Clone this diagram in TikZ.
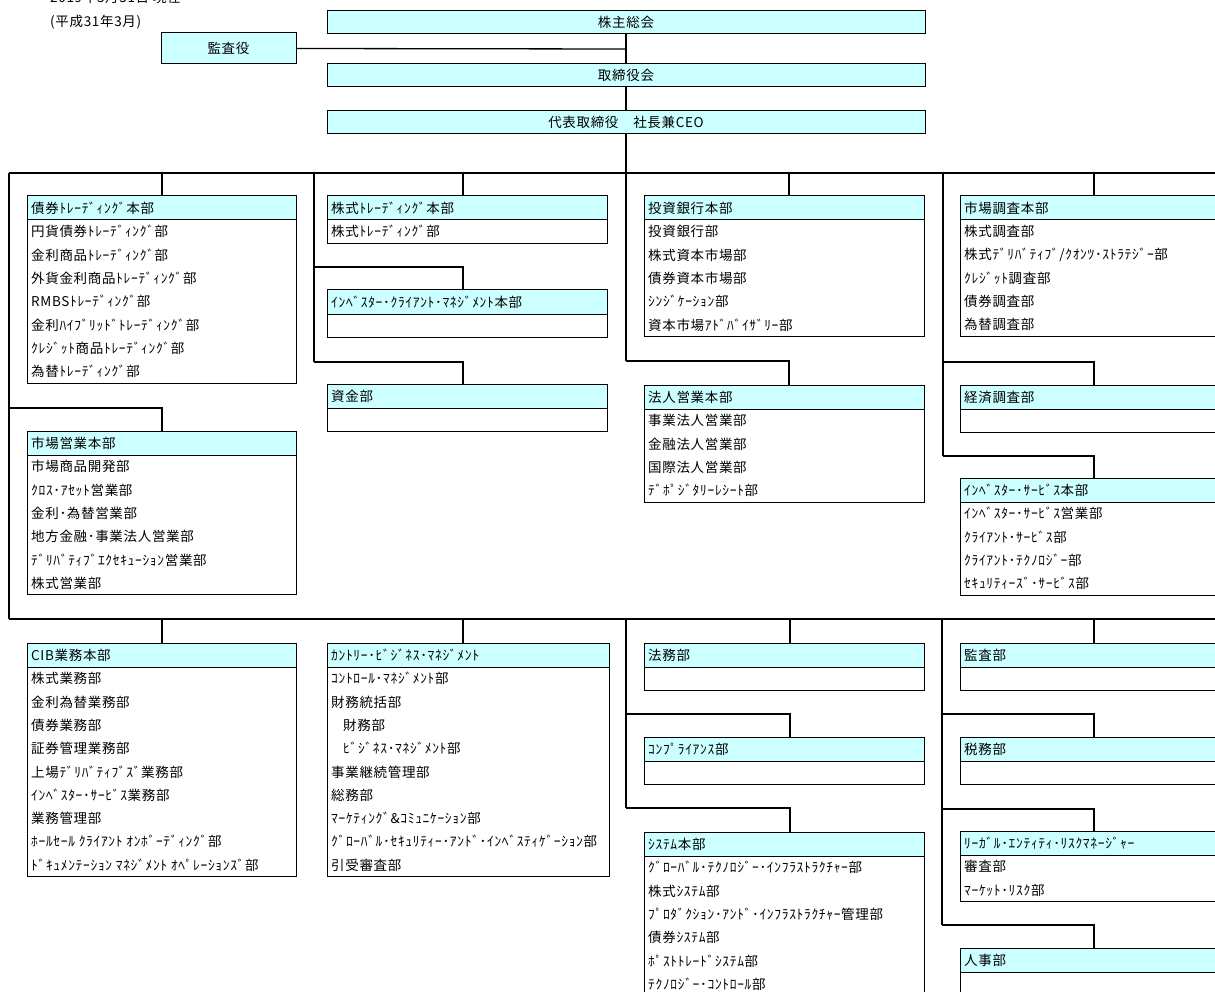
\documentclass[tikz,border=0pt]{standalone}
\usepackage{fontspec}
\setmainfont{Noto Sans CJK JP}[LetterSpace=5]
\usetikzlibrary{calc}
\definecolor{hdrcol}{HTML}{CCFFFF}
\tikzset{
  hdr/.style={draw=black, line width=1pt, fill=hdrcol, anchor=north west, minimum height=24, inner sep=0pt, outer sep=0pt},
  hdrtxt/.style={anchor=west, inner sep=0pt, font=\fontsize{13.5}{16}\selectfont},
  bodybox/.style={draw=black, line width=1pt, fill=white, anchor=north west, inner sep=0pt, outer sep=0pt},
  rowtxt/.style={anchor=west, inner sep=0pt, font=\fontsize{13.5}{16}\selectfont},
  topbox/.style={draw=black, line width=1pt, fill=hdrcol, inner sep=0pt, outer sep=0pt, font=\fontsize{13.5}{16}\selectfont},
  link/.style={line width=1.3pt, draw=black},
  note/.style={anchor=base west, inner sep=0pt, font=\fontsize{13.5}{16}\selectfont}
}
\newcommand\orgunit[7]{%
  \node[hdr, minimum width=#4] (#1) at (#2,#3) {};
  \node[hdrtxt] (#1t) at ($(#1.west)+(4,0)$) {#5};
  \pgfmathsetmacro\myBH{#6*23.3}
  \node[bodybox, minimum width=#4, minimum height=\myBH] (#1b) at (#1.south west) {};
  \foreach \t [count=\i from 0] in {#7} {
    \node[rowtxt] (#1r\i) at ($(#1b.north west)+(4,{11.65+\i*23.3})$) {\t};
  }%
}
\begin{document}
\begin{tikzpicture}[x=1pt,y=-1pt]
\useasboundingbox (0,0) rectangle (1215,992);
\clip (0,0) rectangle (1215,992);

% notes
\node[note] (date) at (50,3) {2019年3月31日 現在};
\node[note] (era) at (50,27) {(平成31年3月)};

% junction coordinates
\coordinate (j0) at (626,49);
\coordinate (b1L) at (9,173);
\coordinate (b1R) at (1225,173);
\coordinate (b2L) at (9,619);
\coordinate (b2R) at (1225,619);
\coordinate (t1) at (162,173);
\coordinate (t2) at (463,173);
\coordinate (t3) at (789,173);
\coordinate (t4) at (1094,173);
\coordinate (j1a) at (9,408);
\coordinate (v2top) at (314,173);
\coordinate (j2a) at (314,267);
\coordinate (j2b) at (314,362);
\coordinate (j3a) at (626,361);
\coordinate (v4top) at (943,173);
\coordinate (j4a) at (943,362);
\coordinate (j4b) at (943,456);
\coordinate (u1) at (162,619);
\coordinate (u2) at (463,619);
\coordinate (u3) at (790,619);
\coordinate (u4) at (1094,619);
\coordinate (v5top) at (626,619);
\coordinate (j5a) at (626,714);
\coordinate (j5b) at (626,808);
\coordinate (v6top) at (942,619);
\coordinate (j6a) at (942,714);
\coordinate (j6b) at (942,809);
\coordinate (j6c) at (942,925);

% top boxes
\node[topbox, minimum width=598, minimum height=23] (sh) at (626,22) {株主総会};
\node[topbox, minimum width=135, minimum height=31] (kansa) at (228.5,48.5) {監査役};
\node[topbox, minimum width=598, minimum height=23] (tori) at (626,75.5) {取締役会};
\node[topbox, minimum width=598, minimum height=23] (ceo) at (626,122.5) {代表取締役　社長兼CEO};

% connectors
\draw[link] (sh.south) -- (tori.north);
\draw[link] (kansa.east) -- (j0);
\draw[link] (tori.south) -- (ceo.north);
\draw[link] (ceo.south) -- (j3a);
\draw[link] (b1L) -- (b1R);
\draw[link] (b1L) -- (b2L);
\draw[link] (b2L) -- (b2R);
\draw[link] (v2top) -- (j2b);
\draw[link] (v4top) -- (j4b);
\draw[link] (v5top) -- (j5b);
\draw[link] (v6top) -- (j6c);

% column 1
\orgunit{bond}{27}{196}{269}{債券ﾄﾚｰﾃﾞｨﾝｸﾞ本部}{7}{円貨債券ﾄﾚｰﾃﾞｨﾝｸﾞ部,金利商品ﾄﾚｰﾃﾞｨﾝｸﾞ部,外貨金利商品ﾄﾚｰﾃﾞｨﾝｸﾞ部,RMBSﾄﾚｰﾃﾞｨﾝｸﾞ部,金利ﾊｲﾌﾞﾘｯﾄﾞﾄﾚｰﾃﾞｨﾝｸﾞ部,ｸﾚｼﾞｯﾄ商品ﾄﾚｰﾃﾞｨﾝｸﾞ部,為替ﾄﾚｰﾃﾞｨﾝｸﾞ部}
\orgunit{mkt}{27}{431}{269}{市場営業本部}{6}{市場商品開発部,ｸﾛｽ･ｱｾｯﾄ営業部,金利･為替営業部,地方金融･事業法人営業部,ﾃﾞﾘﾊﾞﾃｨﾌﾞｴｸｾｷｭｰｼｮﾝ営業部,株式営業部}
\draw[link] (t1) -- (bond.north -| t1);
\draw[link] (j1a) -| (mkt.north -| t1);

% column 2
\orgunit{eqt}{327}{196}{280}{株式ﾄﾚｰﾃﾞｨﾝｸﾞ本部}{1}{株式ﾄﾚｰﾃﾞｨﾝｸﾞ部}
\orgunit{icm}{327}{290}{280}{ｲﾝﾍﾞｽﾀｰ･ｸﾗｲｱﾝﾄ･ﾏﾈｼﾞﾒﾝﾄ本部}{1}{}
\orgunit{fund}{327}{384}{280}{資金部}{1}{}
\draw[link] (t2) -- (eqt.north -| t2);
\draw[link] (j2a) -| (icm.north -| t2);
\draw[link] (j2b) -| (fund.north -| t2);

% column 3
\orgunit{ib}{644}{196}{280}{投資銀行本部}{5}{投資銀行部,株式資本市場部,債券資本市場部,ｼﾝｼﾞｹｰｼｮﾝ部,資本市場ｱﾄﾞﾊﾞｲｻﾞﾘｰ部}
\orgunit{corp}{644}{385}{280}{法人営業本部}{4}{事業法人営業部,金融法人営業部,国際法人営業部,ﾃﾞﾎﾟｼﾞﾀﾘｰﾚｼｰﾄ部}
\draw[link] (t3) -- (ib.north -| t3);
\draw[link] (j3a) -| (corp.north -| t3);

% column 4
\orgunit{res}{960}{196}{268}{市場調査本部}{5}{株式調査部,{株式ﾃﾞﾘﾊﾞﾃｨﾌﾞ/ｸｵﾝﾂ･ｽﾄﾗﾃｼﾞｰ部},ｸﾚｼﾞｯﾄ調査部,債券調査部,為替調査部}
\orgunit{econ}{960}{385}{268}{経済調査部}{1}{}
\orgunit{inv}{960}{478}{268}{ｲﾝﾍﾞｽﾀｰ･ｻｰﾋﾞｽ本部}{4}{ｲﾝﾍﾞｽﾀｰ･ｻｰﾋﾞｽ営業部,ｸﾗｲｱﾝﾄ･ｻｰﾋﾞｽ部,ｸﾗｲｱﾝﾄ･ﾃｸﾉﾛｼﾞｰ部,ｾｷｭﾘﾃｨｰｽﾞ･ｻｰﾋﾞｽ部}
\draw[link] (t4) -- (res.north -| t4);
\draw[link] (j4a) -| (econ.north -| t4);
\draw[link] (j4b) -| (inv.north -| t4);

% bottom row
\orgunit{cib}{27}{643}{269}{CIB業務本部}{9}{株式業務部,金利為替業務部,債券業務部,証券管理業務部,上場ﾃﾞﾘﾊﾞﾃｨﾌﾞｽﾞ業務部,ｲﾝﾍﾞｽﾀｰ･ｻｰﾋﾞｽ業務部,業務管理部,ﾎｰﾙｾｰﾙ ｸﾗｲｱﾝﾄ ｵﾝﾎﾞｰﾃﾞｨﾝｸﾞ部,ﾄﾞｷｭﾒﾝﾃｰｼｮﾝ ﾏﾈｼﾞﾒﾝﾄ ｵﾍﾟﾚｰｼｮﾝｽﾞ部}
\orgunit{cbm}{327}{643}{282}{ｶﾝﾄﾘｰ･ﾋﾞｼﾞﾈｽ･ﾏﾈｼﾞﾒﾝﾄ}{9}{ｺﾝﾄﾛｰﾙ･ﾏﾈｼﾞﾒﾝﾄ部,財務統括部,\hspace*{12pt}財務部,\hspace*{12pt}ﾋﾞｼﾞﾈｽ･ﾏﾈｼﾞﾒﾝﾄ部,事業継続管理部,総務部,ﾏｰｹﾃｨﾝｸﾞ\&ｺﾐｭﾆｹｰｼｮﾝ部,ｸﾞﾛｰﾊﾞﾙ･ｾｷｭﾘﾃｨｰ･ｱﾝﾄﾞ･ｲﾝﾍﾞｽﾃｨｹﾞｰｼｮﾝ部,引受審査部}
\draw[link] (u1) -- (cib.north -| u1);
\draw[link] (u2) -- (cbm.north -| u2);

\orgunit{legal}{644}{643}{280}{法務部}{1}{}
\orgunit{comp}{644}{737}{280}{ｺﾝﾌﾟﾗｲｱﾝｽ部}{1}{}
\orgunit{sys}{644}{832}{280}{ｼｽﾃﾑ本部}{6}{ｸﾞﾛｰﾊﾞﾙ･ﾃｸﾉﾛｼﾞｰ･ｲﾝﾌﾗｽﾄﾗｸﾁｬｰ部,株式ｼｽﾃﾑ部,ﾌﾟﾛﾀﾞｸｼｮﾝ･ｱﾝﾄﾞ･ｲﾝﾌﾗｽﾄﾗｸﾁｬｰ管理部,債券ｼｽﾃﾑ部,ﾎﾟｽﾄﾄﾚｰﾄﾞｼｽﾃﾑ部,ﾃｸﾉﾛｼﾞｰ･ｺﾝﾄﾛｰﾙ部}
\draw[link] (u3) -- (legal.north -| u3);
\draw[link] (j5a) -| (comp.north -| u3);
\draw[link] (j5b) -| (sys.north -| u3);

\orgunit{audit}{960}{643}{268}{監査部}{1}{}
\orgunit{tax}{960}{737}{268}{税務部}{1}{}
\orgunit{lerm}{960}{831}{268}{ﾘｰｶﾞﾙ･ｴﾝﾃｨﾃｨ･ﾘｽｸﾏﾈｰｼﾞｬｰ}{2}{審査部,ﾏｰｹｯﾄ･ﾘｽｸ部}
\orgunit{hr}{960}{948}{268}{人事部}{1}{}
\draw[link] (u4) -- (audit.north -| u4);
\draw[link] (j6a) -| (tax.north -| u4);
\draw[link] (j6b) -| (lerm.north -| u4);
\draw[link] (j6c) -| (hr.north -| u4);
\end{tikzpicture}
\end{document}
